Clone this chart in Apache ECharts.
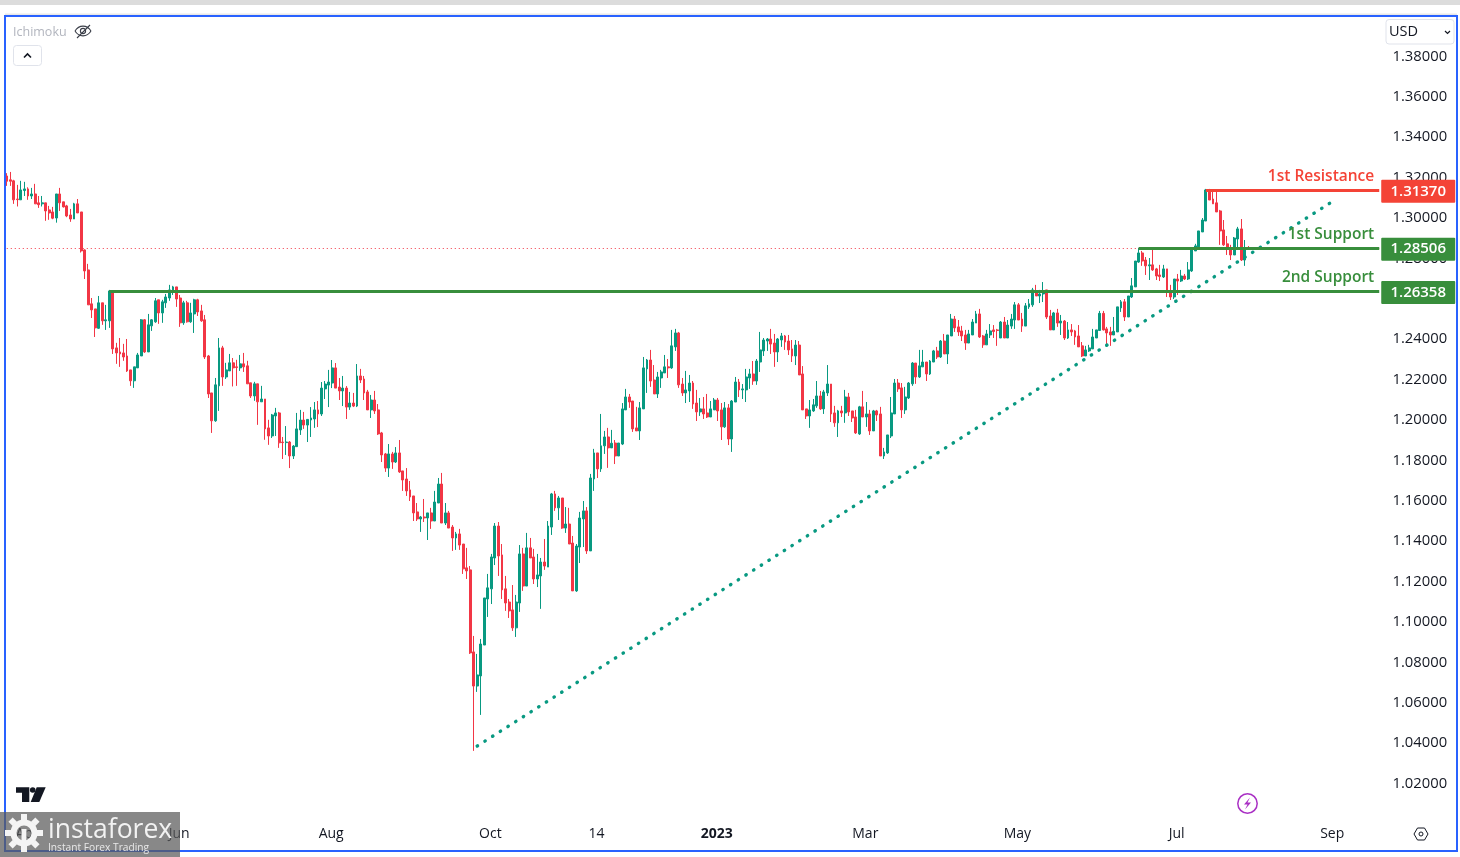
<!DOCTYPE html>
<html><head><meta charset="utf-8"><style>html,body{margin:0;padding:0;background:#fff}#c{width:1460px;height:857px}</style>
<script src="https://cdn.jsdelivr.net/npm/echarts@6/dist/echarts.min.js"></script></head><body><div id="c"></div><script>
// open, close, low, high
const candles = [
[1.3208,1.3182,1.3159,1.3222],[1.3189,1.3182,1.3159,1.3228],[1.3184,1.3090,1.3070,1.3189],[1.3094,1.3091,1.3057,1.3164],[1.3090,1.3139,1.3090,1.3184],[1.3136,1.3144,1.3109,1.3179],[1.3144,1.3109,1.3090,1.3152],[1.3109,1.3119,1.3094,1.3149],[1.3119,1.3070,1.3070,1.3169],[1.3075,1.3066,1.3050,1.3109],
[1.3070,1.3075,1.3057,1.3109],[1.3075,1.3035,1.2986,1.3075],[1.3040,1.3025,1.2991,1.3060],[1.3030,1.2999,1.2994,1.3055],[1.3000,1.3119,1.2977,1.3119],[1.3119,1.3075,1.3035,1.3149],[1.3080,1.3055,1.3052,1.3080],[1.3060,1.3010,1.3004,1.3065],[1.3015,1.2995,1.2981,1.3045],[1.2995,1.3070,1.2995,1.3075],
[1.3070,1.3025,1.3025,1.3094],[1.3030,1.2837,1.2829,1.3030],[1.2842,1.2738,1.2698,1.2845],[1.2743,1.2570,1.2570,1.2773],[1.2575,1.2545,1.2505,1.2604],[1.2550,1.2456,1.2411,1.2550],[1.2454,1.2580,1.2451,1.2614],[1.2580,1.2491,1.2471,1.2580],[1.2491,1.2496,1.2446,1.2570],[1.2491,1.2639,1.2456,1.2644],
[1.2639,1.2352,1.2327,1.2639],[1.2357,1.2332,1.2278,1.2382],[1.2337,1.2327,1.2263,1.2406],[1.2332,1.2312,1.2293,1.2377],[1.2317,1.2243,1.2238,1.2401],[1.2248,1.2194,1.2169,1.2248],[1.2194,1.2263,1.2159,1.2263],[1.2258,1.2322,1.2258,1.2332],[1.2317,1.2496,1.2317,1.2500],[1.2496,1.2337,1.2332,1.2500],
[1.2337,1.2471,1.2337,1.2525],[1.2466,1.2496,1.2441,1.2500],[1.2486,1.2590,1.2481,1.2604],[1.2595,1.2530,1.2476,1.2595],[1.2530,1.2585,1.2481,1.2595],[1.2580,1.2609,1.2555,1.2624],[1.2604,1.2644,1.2590,1.2669],[1.2644,1.2659,1.2619,1.2664],[1.2659,1.2599,1.2560,1.2659],[1.2604,1.2481,1.2461,1.2619],
[1.2481,1.2580,1.2471,1.2590],[1.2580,1.2486,1.2482,1.2590],[1.2486,1.2530,1.2481,1.2580],[1.2525,1.2595,1.2431,1.2600],[1.2595,1.2535,1.2515,1.2600],[1.2540,1.2491,1.2486,1.2570],[1.2496,1.2312,1.2302,1.2520],[1.2317,1.2129,1.2109,1.2322],[1.2134,1.1996,1.1936,1.2134],[1.1996,1.2174,1.1991,1.2208],
[1.2169,1.2357,1.2045,1.2406],[1.2357,1.2213,1.2169,1.2367],[1.2213,1.2248,1.2203,1.2283],[1.2243,1.2283,1.2243,1.2327],[1.2283,1.2258,1.2166,1.2307],[1.2263,1.2260,1.2169,1.2298],[1.2258,1.2278,1.2243,1.2322],[1.2278,1.2263,1.2238,1.2332],[1.2268,1.2179,1.2179,1.2293],[1.2184,1.2119,1.2109,1.2184],
[1.2119,1.2179,1.2095,1.2189],[1.2179,1.2090,1.1976,1.2179],[1.2090,1.2104,1.2090,1.2169],[1.2104,1.1956,1.1902,1.2104],[1.1961,1.1921,1.1877,1.2001],[1.1921,1.2025,1.1911,1.2030],[1.2020,1.2035,1.1921,1.2060],[1.2035,1.1887,1.1862,1.2040],[1.1891,1.1888,1.1807,1.1916],[1.1888,1.1891,1.1827,1.1970],
[1.1891,1.1822,1.1762,1.1896],[1.1822,1.1871,1.1807,1.1876],[1.1868,1.1956,1.1868,1.2035],[1.1951,1.2000,1.1926,1.2050],[1.2000,1.1975,1.1956,1.2040],[1.1975,1.2003,1.1891,1.2005],[1.2000,1.2010,1.1916,1.2064],[1.2005,1.2050,1.1961,1.2089],[1.2050,1.2030,1.1965,1.2094],[1.2030,1.2158,1.2020,1.2188],
[1.2154,1.2178,1.2104,1.2193],[1.2173,1.2188,1.2064,1.2248],[1.2183,1.2258,1.2158,1.2297],[1.2258,1.2158,1.2158,1.2282],[1.2163,1.2144,1.2099,1.2208],[1.2144,1.2158,1.2069,1.2218],[1.2158,1.2064,1.2005,1.2168],[1.2064,1.2084,1.2050,1.2139],[1.2084,1.2069,1.2064,1.2134],[1.2069,1.2218,1.2064,1.2277],
[1.2218,1.2198,1.2183,1.2253],[1.2203,1.2134,1.2099,1.2218],[1.2139,1.2050,1.2050,1.2149],[1.2050,1.2099,1.2010,1.2124],[1.2099,1.2045,1.2030,1.2144],[1.2050,1.1931,1.1926,1.2079],[1.1936,1.1827,1.1792,1.1941],[1.1832,1.1762,1.1743,1.1837],[1.1762,1.1832,1.1718,1.1881],[1.1832,1.1792,1.1758,1.1842],
[1.1792,1.1837,1.1787,1.1866],[1.1837,1.1743,1.1738,1.1901],[1.1748,1.1703,1.1649,1.1748],[1.1708,1.1649,1.1624,1.1762],[1.1654,1.1619,1.1599,1.1698],[1.1624,1.1540,1.1500,1.1624],[1.1545,1.1510,1.1500,1.1589],[1.1510,1.1520,1.1446,1.1525],[1.1520,1.1515,1.1495,1.1609],[1.1515,1.1540,1.1406,1.1540],
[1.1540,1.1500,1.1461,1.1565],[1.1500,1.1594,1.1500,1.1649],[1.1589,1.1683,1.1589,1.1713],[1.1683,1.1490,1.1490,1.1738],[1.1490,1.1540,1.1480,1.1589],[1.1540,1.1465,1.1465,1.1550],[1.1470,1.1416,1.1352,1.1480],[1.1416,1.1436,1.1357,1.1446],[1.1436,1.1381,1.1357,1.1461],[1.1386,1.1263,1.1238,1.1386],
[1.1268,1.1253,1.1213,1.1367],[1.1258,1.0847,1.0842,1.1277],[1.0852,1.0683,1.0362,1.0931],[1.0683,1.0738,1.0654,1.0842],[1.0733,1.0891,1.0540,1.0916],[1.0886,1.1119,1.0886,1.1119],[1.1114,1.1169,1.1025,1.1238],[1.1164,1.1322,1.1089,1.1337],[1.1317,1.1475,1.1282,1.1490],[1.1475,1.1327,1.1228,1.1495],
[1.1332,1.1159,1.1114,1.1386],[1.1164,1.1094,1.1055,1.1228],[1.1099,1.1055,1.1020,1.1114],[1.1060,1.0971,1.0956,1.1183],[1.0971,1.1099,1.0926,1.1134],[1.1094,1.1337,1.1050,1.1381],[1.1337,1.1178,1.1154,1.1367],[1.1178,1.1367,1.1178,1.1441],[1.1367,1.1317,1.1317,1.1416],[1.1322,1.1213,1.1188,1.1362],
[1.1213,1.1233,1.1173,1.1337],[1.1228,1.1297,1.1065,1.1317],[1.1297,1.1277,1.1258,1.1411],[1.1272,1.1475,1.1272,1.1500],[1.1470,1.1634,1.1431,1.1639],[1.1634,1.1565,1.1550,1.1649],[1.1565,1.1614,1.1505,1.1624],[1.1614,1.1465,1.1461,1.1614],[1.1465,1.1485,1.1441,1.1569],[1.1485,1.1386,1.1386,1.1565],
[1.1391,1.1154,1.1154,1.1426],[1.1154,1.1376,1.1149,1.1386],[1.1371,1.1515,1.1292,1.1545],[1.1510,1.1550,1.1371,1.1599],[1.1550,1.1352,1.1337,1.1569],[1.1352,1.1713,1.1352,1.1733],[1.1708,1.1837,1.1649,1.1857],[1.1837,1.1758,1.1713,1.1837],[1.1758,1.1872,1.1743,1.2030],[1.1872,1.1916,1.1832,1.1946],
[1.1916,1.1862,1.1763,1.1961],[1.1862,1.1885,1.1862,1.1951],[1.1886,1.1822,1.1782,1.1901],[1.1822,1.1886,1.1822,1.1886],[1.1881,1.2055,1.1876,1.2084],[1.2050,1.2114,1.2050,1.2154],[1.2114,1.2089,1.2060,1.2129],[1.2094,1.1956,1.1941,1.2094],[1.1961,1.1946,1.1946,1.2065],[1.1946,1.2060,1.1901,1.2089],
[1.2055,1.2258,1.2055,1.2312],[1.2253,1.2297,1.2134,1.2302],[1.2297,1.2193,1.2164,1.2347],[1.2198,1.2129,1.2129,1.2272],[1.2129,1.2213,1.2109,1.2238],[1.2208,1.2238,1.2159,1.2248],[1.2233,1.2263,1.2233,1.2322],[1.2263,1.2258,1.2208,1.2302],[1.2258,1.2367,1.2253,1.2446],[1.2362,1.2431,1.2342,1.2451],
[1.2431,1.2174,1.2159,1.2436],[1.2178,1.2134,1.2119,1.2208],[1.2134,1.2149,1.2084,1.2243],[1.2144,1.2183,1.2089,1.2223],[1.2183,1.2079,1.2055,1.2193],[1.2084,1.2040,1.1995,1.2149],[1.2040,1.2055,1.2020,1.2109],[1.2055,1.2030,1.2005,1.2114],[1.2035,1.2015,1.2010,1.2129],[1.2015,1.2055,1.2015,1.2094],
[1.2050,1.2099,1.2050,1.2109],[1.2099,1.2045,1.1995,1.2109],[1.2050,1.1966,1.1901,1.2084],[1.1966,1.2060,1.1961,1.2089],[1.2060,1.1906,1.1876,1.2079],[1.1906,1.2094,1.1842,1.2099],[1.2089,1.2188,1.2089,1.2213],[1.2188,1.2149,1.2114,1.2203],[1.2149,1.2154,1.2104,1.2178],[1.2149,1.2213,1.2089,1.2253],
[1.2208,1.2228,1.2154,1.2253],[1.2228,1.2193,1.2174,1.2292],[1.2193,1.2292,1.2174,1.2302],[1.2287,1.2347,1.2238,1.2436],[1.2342,1.2396,1.2317,1.2406],[1.2391,1.2401,1.2342,1.2406],[1.2401,1.2376,1.2327,1.2451],[1.2381,1.2337,1.2263,1.2426],[1.2337,1.2401,1.2287,1.2406],[1.2396,1.2416,1.2362,1.2431],
[1.2416,1.2386,1.2347,1.2421],[1.2391,1.2347,1.2322,1.2421],[1.2352,1.2317,1.2287,1.2396],[1.2317,1.2371,1.2272,1.2396],[1.2371,1.2223,1.2223,1.2391],[1.2228,1.2050,1.2050,1.2267],[1.2055,1.2020,1.2005,1.2055],[1.2020,1.2050,1.1961,1.2099],[1.2045,1.2075,1.2040,1.2104],[1.2070,1.2119,1.2060,1.2193],
[1.2119,1.2055,1.2050,1.2144],[1.2055,1.2139,1.2030,1.2149],[1.2134,1.2178,1.2119,1.2272],[1.2178,1.2030,1.1990,1.2178],[1.2035,1.1986,1.1966,1.2070],[1.1986,1.2045,1.1916,1.2050],[1.2045,1.2035,1.2015,1.2070],[1.2035,1.2114,1.1986,1.2149],[1.2114,1.2040,1.2020,1.2134],[1.2045,1.2010,1.1990,1.2045],
[1.2015,1.1936,1.1931,1.2050],[1.1931,1.2065,1.1926,1.2070],[1.2065,1.2015,1.2015,1.2144],[1.2015,1.2030,1.1966,1.2089],[1.2030,1.1946,1.1926,1.2050],[1.1946,1.2045,1.1946,1.2050],[1.2045,1.2025,1.1995,1.2050],[1.2030,1.1822,1.1822,1.2065],[1.1822,1.1842,1.1807,1.1862],[1.1837,1.1926,1.1832,1.1926],
[1.1921,1.2035,1.1911,1.2114],[1.2030,1.2183,1.2030,1.2203],[1.2183,1.2154,1.2139,1.2203],[1.2159,1.2050,1.2010,1.2183],[1.2050,1.2114,1.2030,1.2164],[1.2109,1.2183,1.2104,1.2188],[1.2179,1.2282,1.2169,1.2287],[1.2282,1.2213,1.2179,1.2282],[1.2213,1.2268,1.2208,1.2347],[1.2263,1.2287,1.2263,1.2347],
[1.2287,1.2228,1.2193,1.2287],[1.2228,1.2292,1.2223,1.2297],[1.2287,1.2342,1.2287,1.2347],[1.2342,1.2312,1.2302,1.2362],[1.2312,1.2391,1.2307,1.2396],[1.2391,1.2327,1.2327,1.2426],[1.2327,1.2421,1.2277,1.2421],[1.2416,1.2500,1.2416,1.2525],[1.2500,1.2456,1.2436,1.2515],[1.2461,1.2436,1.2416,1.2495],
[1.2441,1.2416,1.2391,1.2466],[1.2421,1.2381,1.2347,1.2446],[1.2381,1.2426,1.2381,1.2446],[1.2421,1.2485,1.2421,1.2500],[1.2480,1.2525,1.2480,1.2540],[1.2525,1.2411,1.2406,1.2550],[1.2416,1.2372,1.2357,1.2421],[1.2372,1.2426,1.2372,1.2446],[1.2421,1.2441,1.2406,1.2475],[1.2446,1.2438,1.2406,1.2470],
[1.2446,1.2443,1.2367,1.2451],[1.2406,1.2485,1.2406,1.2490],[1.2485,1.2406,1.2406,1.2510],[1.2406,1.2470,1.2406,1.2495],[1.2465,1.2500,1.2451,1.2525],[1.2495,1.2570,1.2451,1.2584],[1.2570,1.2495,1.2495,1.2579],[1.2500,1.2465,1.2436,1.2530],[1.2465,1.2565,1.2465,1.2579],[1.2560,1.2575,1.2550,1.2599],
[1.2570,1.2644,1.2560,1.2654],[1.2634,1.2614,1.2614,1.2669],[1.2614,1.2624,1.2579,1.2644],[1.2624,1.2634,1.2584,1.2683],[1.2644,1.2510,1.2500,1.2644],[1.2515,1.2446,1.2446,1.2545],[1.2446,1.2530,1.2446,1.2535],[1.2530,1.2480,1.2461,1.2550],[1.2480,1.2490,1.2421,1.2520],[1.2490,1.2406,1.2396,1.2495],
[1.2406,1.2446,1.2401,1.2485],[1.2446,1.2436,1.2416,1.2475],[1.2441,1.2411,1.2372,1.2446],[1.2416,1.2362,1.2362,1.2470],[1.2367,1.2317,1.2312,1.2386],[1.2317,1.2347,1.2317,1.2367],[1.2342,1.2357,1.2337,1.2372],[1.2352,1.2411,1.2352,1.2451],[1.2406,1.2446,1.2406,1.2446],[1.2443,1.2528,1.2443,1.2540],
[1.2528,1.2446,1.2443,1.2540],[1.2451,1.2431,1.2367,1.2461],[1.2436,1.2421,1.2367,1.2461],[1.2421,1.2439,1.2421,1.2510],[1.2436,1.2560,1.2436,1.2560],[1.2555,1.2585,1.2535,1.2594],[1.2585,1.2510,1.2490,1.2599],[1.2510,1.2614,1.2510,1.2614],[1.2609,1.2664,1.2604,1.2703],[1.2659,1.2787,1.2659,1.2787],
[1.2782,1.2827,1.2778,1.2852],[1.2827,1.2787,1.2763,1.2837],[1.2792,1.2763,1.2718,1.2807],[1.2763,1.2768,1.2693,1.2802],[1.2768,1.2743,1.2738,1.2852],[1.2748,1.2713,1.2693,1.2753],[1.2718,1.2710,1.2688,1.2768],[1.2708,1.2748,1.2703,1.2768],[1.2748,1.2634,1.2609,1.2748],[1.2639,1.2609,1.2594,1.2669],
[1.2609,1.2698,1.2599,1.2698],[1.2698,1.2688,1.2619,1.2723],[1.2688,1.2713,1.2683,1.2743],[1.2713,1.2698,1.2693,1.2723],[1.2698,1.2743,1.2693,1.2782],[1.2738,1.2842,1.2733,1.2852],[1.2837,1.2862,1.2837,1.2872],[1.2857,1.2936,1.2852,1.2936],[1.2931,1.2990,1.2931,1.3000],[1.2985,1.3139,1.2985,1.3144],
[1.3139,1.3089,1.3089,1.3144],[1.3094,1.3070,1.3070,1.3129],[1.3075,1.3030,1.3030,1.3129],[1.3035,1.2936,1.2867,1.3040],[1.2941,1.2867,1.2862,1.2990],[1.2872,1.2847,1.2817,1.2911],[1.2852,1.2817,1.2792,1.2867],[1.2817,1.2901,1.2817,1.2906],[1.2896,1.2946,1.2852,1.2956],[1.2946,1.2792,1.2787,1.2995],
[1.2792,1.2847,1.2763,1.2891],[1.2852,1.2847,1.2842,1.2861]
];
const slotCount = 389;
const dateTicks = [[6,'Apr'],[49,'Jun'],[92,'Aug'],[137,'Oct'],[167,'14'],[201,'2023'],[243,'Mar'],[286,'May'],[331,'Jul'],[375,'Sep']];
const priceMin = 1.00, priceMax = 1.40, priceStep = 0.02;
const lastPrice = 1.2850;
const levels = [
 {price:1.31370, name:'1st Resistance', color:'#f44336', from:339},
 {price:1.28506, name:'1st Support', color:'#388e3c', from:320},
 {price:1.26358, name:'2nd Support', color:'#388e3c', from:29}
];
const trend = [[133,1.0386],[374,1.3073]];
const UP='#089981', DOWN='#f23645';
const FONT='"Open Sans",sans-serif';

const categories = Array.from({length:slotCount},()=> '');
dateTicks.forEach(([i,t])=>categories[i]=t);
const last = slotCount-1;

const markData = [
 [{coord:[0,lastPrice],lineStyle:{color:DOWN,width:1,type:[1,3]},label:{show:false}},{coord:[last,lastPrice]}],
 [{coord:trend[0],lineStyle:{color:UP,width:3.4,type:[0.4,8.7],cap:'round'},label:{show:false}},{coord:trend[1]}]
];
levels.forEach(l=>{
 markData.push([{coord:[l.from,l.price],lineStyle:{color:l.color,width:3,type:'solid'},
   label:{show:true,position:'end',distance:0,offset:[2,1],formatter:'{p|'+l.price.toFixed(5)+'}',align:'left',verticalAlign:'middle',
     rich:{p:{backgroundColor:l.color,color:'#fff',fontFamily:FONT,fontSize:15,fontWeight:600,width:74,height:23,lineHeight:23,align:'center',borderRadius:1}}}},
   {coord:[last,l.price]}]);
 markData.push([{coord:[l.from,l.price],lineStyle:{color:'rgba(0,0,0,0)',width:1,type:'solid'},
   label:{show:true,position:'insideEndTop',distance:6,offset:[1,0],formatter:l.name,color:l.color,fontFamily:FONT,fontSize:15.5,fontWeight:600}},
   {coord:[last,l.price]}]);
});

const g=[];
g.push({type:'rect',shape:{x:0,y:0,width:1460,height:5},style:{fill:'#dcdcdc'},z:0});
g.push({type:'rect',shape:{x:5,y:13.5,width:1452,height:2},style:{fill:'#e8e8e8'},z:0});
g.push({type:'rect',shape:{x:5,y:16,width:1452,height:835},style:{fill:'none',stroke:'#2962ff',lineWidth:2},z:50});
// legend row
g.push({type:'text',x:13,y:32,style:{text:'Ichimoku',fill:'#b2b5be',font:'12.5px '+FONT,verticalAlign:'middle'},z:50});
g.push({type:'bezierCurve',shape:{x1:75,y1:31,x2:91,y2:31,cpx1:79,cpy1:24.5,cpx2:87,cpy2:24.5},style:{fill:'none',stroke:'#3a3e48',lineWidth:1.1},z:50});
g.push({type:'bezierCurve',shape:{x1:75,y1:31,x2:91,y2:31,cpx1:79,cpy1:37.5,cpx2:87,cpy2:37.5},style:{fill:'none',stroke:'#3a3e48',lineWidth:1.1},z:50});
g.push({type:'circle',shape:{cx:83,cy:31,r:2.6},style:{fill:'none',stroke:'#3a3e48',lineWidth:1.1},z:50});
g.push({type:'line',shape:{x1:77,y1:38,x2:90,y2:25},style:{stroke:'#3a3e48',lineWidth:1.1},z:50});
g.push({type:'rect',shape:{x:13.5,y:45.5,width:28,height:20,r:3},style:{fill:'#fff',stroke:'#e0e3eb',lineWidth:1},z:50});
g.push({type:'polyline',shape:{points:[[24,57.5],[27.5,54],[31,57.5]]},style:{fill:'none',stroke:'#131722',lineWidth:1.6},z:51});
// currency box
g.push({type:'rect',shape:{x:1386,y:19.5,width:68,height:24.5,r:3},style:{fill:'#fff',stroke:'#e0e3eb',lineWidth:1},z:50});
g.push({type:'text',x:1389,y:32,style:{text:'USD',fill:'#131722',font:'14.5px '+FONT,verticalAlign:'middle'},z:51});
g.push({type:'polyline',shape:{points:[[1445,31],[1447.5,33.5],[1450,31]]},style:{fill:'none',stroke:'#131722',lineWidth:1.2},z:51});
// TradingView mark
g.push({type:'polygon',shape:{points:[[16,787.3],[29.3,787.3],[29.3,802],[22,802],[22,792.7],[16,792.7]]},style:{fill:'#131722'},z:50});
g.push({type:'polygon',shape:{points:[[36.7,787.3],[45.7,787.3],[39.3,802],[30.7,802]]},style:{fill:'#131722'},z:50});
g.push({type:'circle',shape:{cx:32.7,cy:790,r:2.8},style:{fill:'#131722'},z:50});
// lightning and settings
g.push({type:'circle',shape:{cx:1247.5,cy:803.5,r:9.7},style:{fill:'#fff',stroke:'#a92fc4',lineWidth:1.5},z:50});
g.push({type:'polygon',shape:{points:[[1250,797.5],[1244,804.5],[1247.5,804.5],[1245,809.5],[1251,802.5],[1247.5,802.5]]},style:{fill:'#a92fc4'},z:51});
g.push({type:'polygon',shape:{points:[[1414,834],[1417.5,828],[1424.5,828],[1428,834],[1424.5,840],[1417.5,840]]},style:{fill:'none',stroke:'#131722',lineWidth:1},z:50});
g.push({type:'circle',shape:{cx:1421,cy:834,r:2},style:{fill:'none',stroke:'#131722',lineWidth:1},z:50});
// watermark
g.push({type:'rect',shape:{x:0,y:812,width:180,height:45},style:{fill:'rgba(90,90,90,0.72)'},z:60});
g.push({type:'circle',shape:{cx:24,cy:833,r:10.5},style:{fill:'none',stroke:'#f4f4f4',lineWidth:6},z:61});
[0,1,2,3,4,5,6,7].forEach(i=>{
 g.push({type:'rect',x:24,y:833,originX:0,originY:0,rotation:i*Math.PI/4,shape:{x:-3,y:-19,width:6,height:6},style:{fill:'#f4f4f4'},z:61});
});
g.push({type:'rect',shape:{x:21.5,y:829,width:5,height:12},style:{fill:'#f4f4f4'},z:61});
g.push({type:'text',x:48,y:830,style:{text:'instaforex',fill:'#f2f2f2',font:'26.5px '+FONT,verticalAlign:'middle'},z:61});
g.push({type:'text',x:48,y:848,style:{text:'Instant Forex Trading',fill:'#e8e8e8',font:'10.2px '+FONT,verticalAlign:'middle'},z:61});

const chart=echarts.init(document.getElementById('c'),null,{renderer:'canvas'});
chart.setOption({
 animation:false,
 backgroundColor:'#fff',
 grid:{left:5,top:16,width:1376,height:808,containLabel:false},
 xAxis:{type:'category',data:categories,boundaryGap:true,axisLine:{show:false},axisTick:{show:false},splitLine:{show:false},
  axisLabel:{interval:0,hideOverlap:false,margin:0,padding:[0,2,0,0],color:'#131722',fontFamily:FONT,fontSize:14,height:20,lineHeight:20,
   formatter:v=>v==='2023'?'{b|2023}':v,rich:{b:{fontWeight:700,fontSize:14,fontFamily:FONT,color:'#131722'}}}},
 yAxis:{type:'value',position:'right',min:priceMin,max:priceMax,interval:priceStep,scale:true,axisLine:{show:false},axisTick:{show:false},splitLine:{show:false},
  axisLabel:{margin:11.5,padding:[2,0,0,0],color:'#131722',fontFamily:FONT,fontSize:14.8,formatter:v=>(v<priceMin+0.001||v>priceMax-0.001)?'':v.toFixed(5)}},
 series:[{type:'candlestick',data:candles,barWidth:2.4,progressive:0,clip:true,
  itemStyle:{color:UP,color0:DOWN,borderColor:UP,borderColor0:DOWN,borderWidth:1},
  markLine:{silent:true,symbol:'none',animation:false,precision:5,z:10,data:markData}}],
 graphic:g
});
</script></body></html>
